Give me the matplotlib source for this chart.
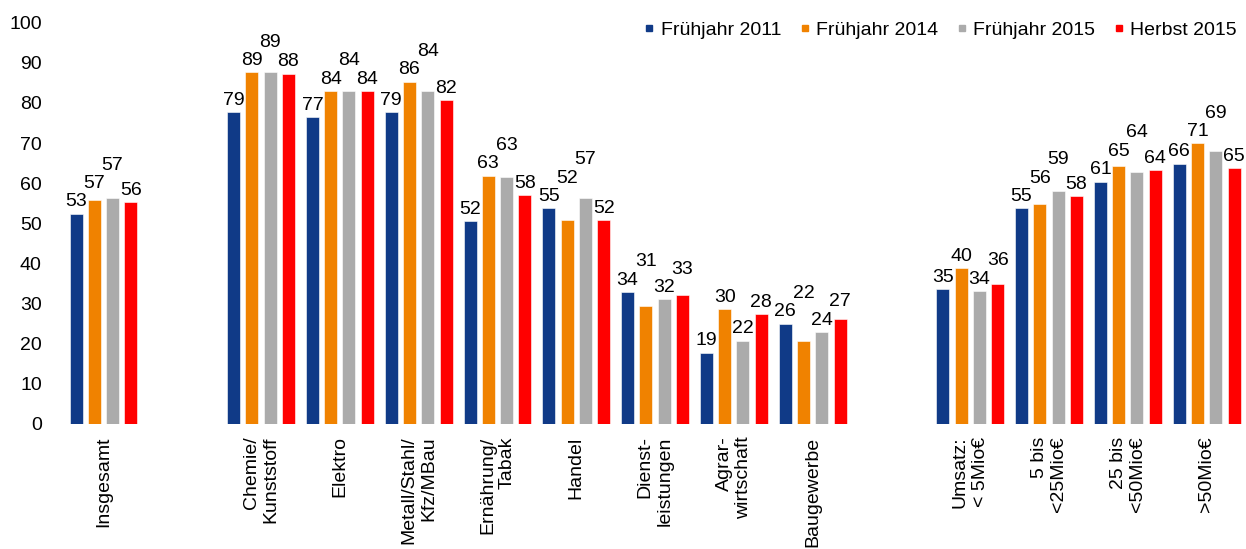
import numpy as np
import matplotlib
matplotlib.use("Agg")
import matplotlib.pyplot as plt
from matplotlib.lines import Line2D

plt.rcParams['font.family'] = ['Liberation Sans', 'DejaVu Sans']

# categories (empty strings = gaps between groups)
categories = ["Insgesamt", "",
              "Chemie/\nKunststoff", "Elektro", "Metall/Stahl/\nKfz/MBau",
              "Ernährung/\nTabak", "Handel", "Dienst-\nleistungen",
              "Agrar-\nwirtschaft", "Baugewerbe", "",
              "Umsatz:\n< 5Mio€", "5 bis\n<25Mio€", "25 bis\n<50Mio€", ">50Mio€"]

series = ["Frühjahr 2011", "Frühjahr 2014", "Frühjahr 2015", "Herbst 2015"]
colors = ["#103A87", "#F08200", "#ABABAB", "#FF0000"]

# bar heights (None = gap)
h_2011 = [52.4, None, 77.8, 76.4, 77.8, 50.6, 53.7, 32.9, 17.8, 25.0, None, 33.7, 53.7, 60.4, 64.9]
h_2014 = [55.8, None, 87.6, 83.0, 85.3, 61.9, 50.9, 29.5, 28.6, 20.6, None, 38.9, 54.8, 64.4, 69.9]
h_2015 = [56.3, None, 87.6, 83.0, 83.0, 61.6, 56.3, 31.1, 20.8, 22.9, None, 33.2, 58.1, 62.9, 68.0]
h_h2015 = [55.2, None, 87.3, 83.0, 80.8, 57.1, 50.9, 32.2, 27.4, 26.1, None, 34.9, 56.7, 63.3, 63.8]

# printed data labels
l_2011 = [53, None, 79, 77, 79, 52, 55, 34, 19, 26, None, 35, 55, 61, 66]
l_2014 = [57, None, 89, 84, 86, 63, 52, 31, 30, 22, None, 40, 56, 65, 71]
l_2015 = [57, None, 89, 84, 84, 63, 57, 32, 22, 24, None, 34, 59, 64, 69]
l_h2015 = [56, None, 88, 84, 82, 58, 52, 33, 28, 27, None, 36, 58, 64, 65]

heights = [h_2011, h_2014, h_2015, h_h2015]
labels = [l_2011, l_2014, l_2015, l_h2015]

fig = plt.figure(figsize=(12.46, 5.49), dpi=100)
ax = fig.add_axes([0.0514, 0.2277, 0.9486, 0.731])

x = np.arange(len(categories))
step = 0.232
width = 0.165

for i, hs in enumerate(heights):
    xs = [xx + (i - 1.5) * step for xx, h in zip(x, hs) if h is not None]
    vals = [h for h in hs if h is not None]
    ax.bar(xs, vals, width=width, color=colors[i], edgecolor="white", linewidth=0.4)

# data labels, staggered upward when they would collide with the left neighbour
gap = 4.6
for k in range(len(categories)):
    prev = None
    for i in range(4):
        h = heights[i][k]
        if h is None:
            continue
        y = h + 0.8
        if prev is not None and abs(y - prev) < gap - 0.05:
            y = prev + gap
        prev = y
        ax.text(x[k] + (i - 1.5) * step, y, str(labels[i][k]),
                ha="center", va="bottom", fontsize=14)

ax.set_xlim(-0.5, len(categories) - 0.5)
ax.set_ylim(0, 100)
ax.set_yticks(np.arange(0, 101, 10))
ax.set_xticks(x)
ax.set_xticklabels(categories, rotation=90, va="top", ha="center",
                   multialignment="right", fontsize=14)
ax.tick_params(axis="y", length=0, pad=16, labelsize=14)
ax.tick_params(axis="x", length=0, pad=9)
for s in ax.spines.values():
    s.set_visible(False)

handles = [Line2D([], [], marker="s", linestyle="none", markersize=4,
                  markerfacecolor=c, markeredgecolor=c) for c in colors]
fig.legend(handles, series, loc="center right", ncol=4, frameon=False,
           bbox_to_anchor=(1237 / 1246, 1 - 30 / 549), borderpad=0,
           borderaxespad=0, fontsize=14, handlelength=0.6,
           handletextpad=0.3, columnspacing=0.9)

fig.savefig("out.png", dpi=100)
